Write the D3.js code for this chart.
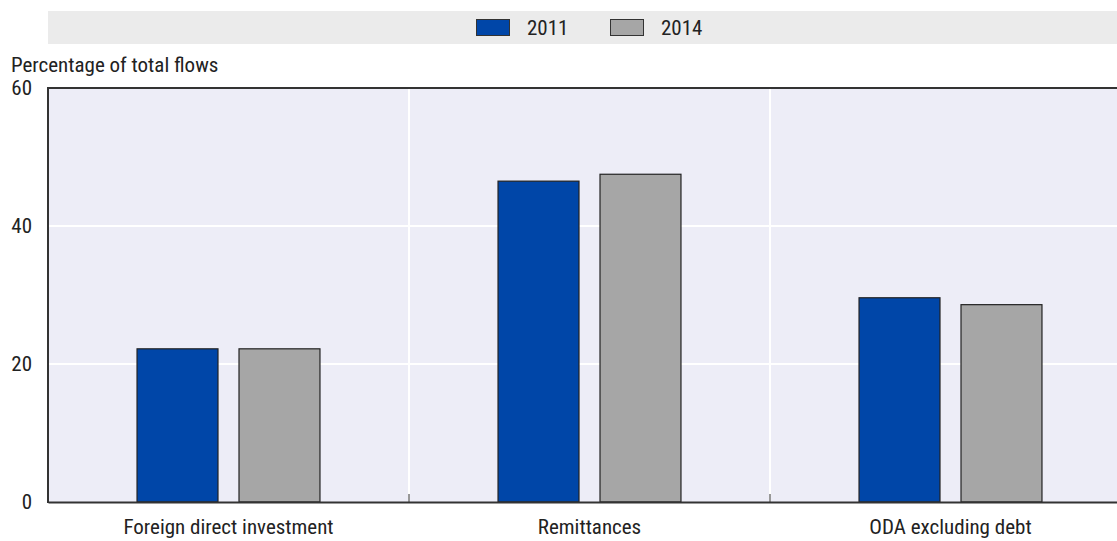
<!DOCTYPE html>
<html><head><meta charset="utf-8">
<script src="https://cdn.jsdelivr.net/npm/d3@7"></script>
<style>
body{margin:0;background:#fff;}
text{font-family:"Liberation Sans Narrow","Roboto Condensed","Arial Narrow",sans-serif;fill:#222;}
</style></head>
<body><svg id="c" width="1117" height="541"></svg>
<script>
const categories = ["Foreign direct investment","Remittances","ODA excluding debt"];
const seriesNames = ["2011","2014"];
const values2011 = [22.2, 46.5, 29.6];
const values2014 = [22.2, 47.5, 28.6];
const yTicks = [0,20,40,60];
const colors = ["#0046A8","#A6A6A6"];
const yLabel = "Percentage of total flows";

const svg = d3.select("#c");
const L = 48, R = 1131, T = 88, B = 502;
const FS = 21;

const x0 = d3.scaleBand().domain(categories).range([L,R]).padding(0);
const x1 = d3.scaleBand().domain(seriesNames).range([0,x0.bandwidth()]).paddingInner(0.206).paddingOuter(0.873);
const y = d3.scaleLinear().domain([0,60]).range([B,T]);

// legend band
svg.append("rect").attr("x",L).attr("y",11).attr("width",1117-L).attr("height",33).attr("fill","#EBEBEB");
const lgX = [476,610];
seriesNames.forEach((s,i)=>{
  svg.append("rect").attr("x",lgX[i]+0.5).attr("y",19.5).attr("width",33).attr("height",16)
    .attr("fill",colors[i]).attr("stroke","#333").attr("stroke-width",1);
  svg.append("text").attr("x",lgX[i]+51).attr("y",28).attr("dy","0.35em").attr("font-size",FS).text(s);
});

// plot background
svg.append("rect").attr("x",L).attr("y",T).attr("width",R-L).attr("height",B-T).attr("fill","#EDEDF7");

// gridlines
svg.append("g").selectAll("line").data(yTicks.filter(d=>d>0&&d<60)).join("line")
  .attr("x1",L).attr("x2",R).attr("y1",d=>y(d)).attr("y2",d=>y(d)).attr("stroke","#fff").attr("stroke-width",2);
svg.append("g").selectAll("line").data(categories.slice(1)).join("line")
  .attr("x1",d=>x0(d)).attr("x2",d=>x0(d)).attr("y1",T).attr("y2",B).attr("stroke","#fff").attr("stroke-width",2);

// bars
const data = categories.map((c,i)=>({cat:c, vals:[values2011[i],values2014[i]]}));
const g = svg.append("g").selectAll("g").data(data).join("g").attr("transform",d=>`translate(${x0(d.cat)},0)`);
g.selectAll("rect").data(d=>d.vals.map((v,i)=>({s:seriesNames[i],v,i}))).join("rect")
  .attr("x",d=>x1(d.s)).attr("width",x1.bandwidth())
  .attr("y",d=>y(d.v)).attr("height",d=>y(0)-y(d.v))
  .attr("fill",d=>colors[d.i]).attr("stroke","#222").attr("stroke-width",1.2);

// frame lines
svg.append("line").attr("x1",L).attr("x2",R).attr("y1",T).attr("y2",T).attr("stroke","#333").attr("stroke-width",2);
svg.append("line").attr("x1",L).attr("x2",L).attr("y1",T-1).attr("y2",B+1).attr("stroke","#333").attr("stroke-width",2);

// x axis
const xAxis = svg.append("g").attr("transform",`translate(0,${B})`)
  .call(d3.axisBottom(x0).tickSize(0).tickPadding(17));
xAxis.select(".domain").attr("stroke","#333").attr("stroke-width",2);
xAxis.selectAll("text").attr("font-size",FS).attr("fill","#222");
svg.append("g").selectAll("line").data(categories.slice(1)).join("line")
  .attr("x1",d=>x0(d)).attr("x2",d=>x0(d)).attr("y1",B).attr("y2",B-8).attr("stroke","#333").attr("stroke-width",1);

// y axis labels
const yAxis = svg.append("g").attr("transform",`translate(${L},0)`)
  .call(d3.axisLeft(y).tickValues(yTicks).tickSize(0).tickPadding(16));
yAxis.select(".domain").remove();
yAxis.selectAll("text").attr("font-size",FS).attr("fill","#222");

svg.append("text").attr("x",11).attr("y",65).attr("dy","0.35em").attr("font-size",FS).text(yLabel);
</script></body></html>
